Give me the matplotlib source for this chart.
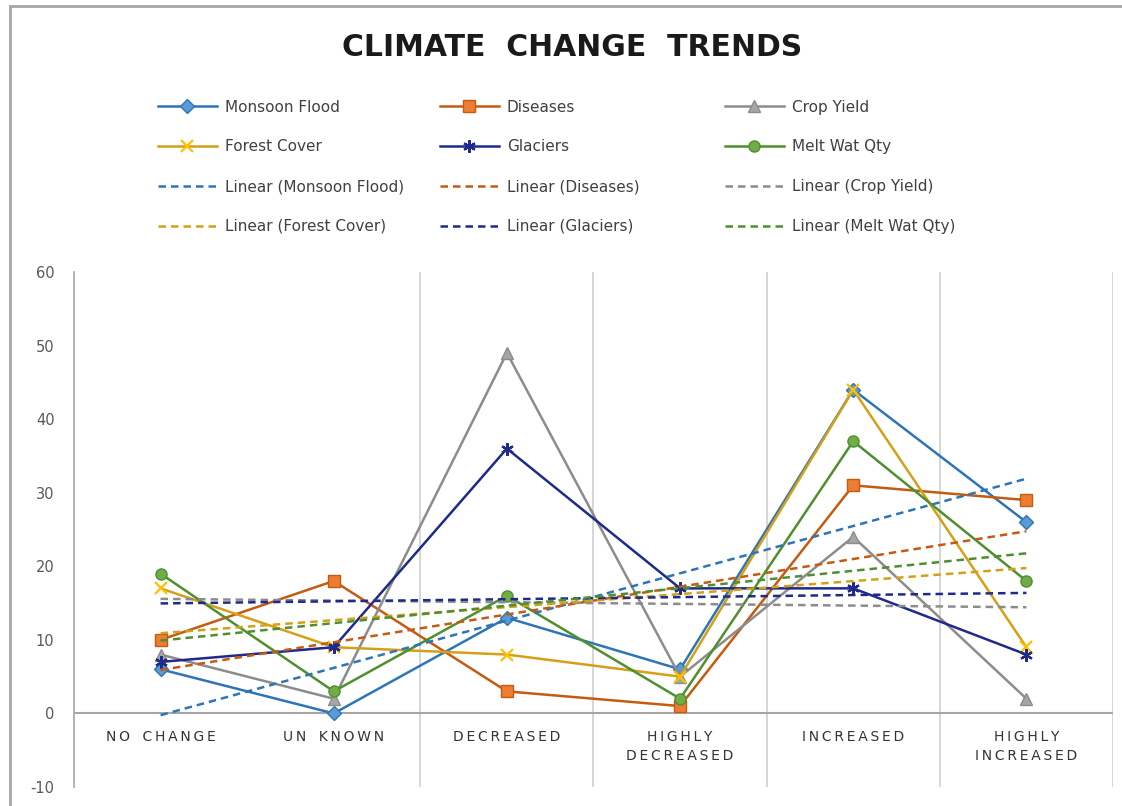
import matplotlib.pyplot as plt
from matplotlib.patches import Rectangle
import numpy as np

plt.rcParams['axes.unicode_minus'] = False

# categories and series values
categories = ['NO CHANGE', 'UN KNOWN', 'DECREASED', 'HIGHLY\nDECREASED', 'INCREASED', 'HIGHLY\nINCREASED']
series_names = ['Monsoon Flood', 'Diseases', 'Crop Yield', 'Forest Cover', 'Glaciers', 'Melt Wat Qty']
monsoon_flood = [6, 0, 13, 6, 44, 26]
diseases = [10, 18, 3, 1, 31, 29]
crop_yield = [8, 2, 49, 5, 24, 2]
forest_cover = [17, 9, 8, 5, 44, 9]
glaciers = [7, 9, 36, 17, 17, 8]
melt_wat_qty = [19, 3, 16, 2, 37, 18]
y_ticks = [-10, 0, 10, 20, 30, 40, 50, 60]

all_series = [monsoon_flood, diseases, crop_yield, forest_cover, glaciers, melt_wat_qty]
line_colors = ['#2E75B6', '#C55A11', '#8C8C8C', '#D4A017', '#1F2A8A', '#4E8F2E']
marker_colors = ['#5B9BD5', '#ED7D31', '#A5A5A5', '#FFC000', '#2E5FB0', '#70AD47']
markers = ['D', 's', '^', 'x', (6, 2, 0), 'o']
msizes = [7, 8, 8, 8, 9, 8]

fig = plt.figure(figsize=(11.22, 8.06), dpi=100)
ax = fig.add_axes([74 / 1122, 1 - 787 / 806, (1113 - 74) / 1122, (787 - 272) / 806])

x = np.arange(1, len(categories) + 1)
line_handles = []
trend_handles = []
for name, vals, lc, mc, mk, ms in zip(series_names, all_series, line_colors, marker_colors, markers, msizes):
    h, = ax.plot(x, vals, color=lc, lw=1.8, marker=mk, markersize=ms,
                 markerfacecolor=mc, markeredgecolor=lc if mk != 'x' else mc,
                 markeredgewidth=1.6 if mk in ('x', (6, 2, 0)) else 1.0, label=name, zorder=3)
    line_handles.append(h)

for name, vals, lc in zip(series_names, all_series, line_colors):
    slope, icpt = np.polyfit(x, vals, 1)
    t, = ax.plot(x, slope * x + icpt, color=lc, lw=1.8, ls=(0, (3, 2)),
                 label='Linear (%s)' % name, zorder=4)
    trend_handles.append(t)

ax.set_xlim(0.5, 6.5)
ax.set_ylim(-10, 60)
ax.set_yticks(y_ticks)
ax.set_xticks([])
ax.tick_params(axis='y', length=0, pad=14, labelsize=10.5, labelcolor='#595959')
for s in ['top', 'right', 'bottom']:
    ax.spines[s].set_visible(False)
ax.spines['left'].set_color('#A6A6A6')
ax.spines['left'].set_linewidth(1.2)
ax.axhline(0, color='#A6A6A6', lw=1.5, zorder=1)
for b in np.arange(2.5, 7, 1):
    ax.axvline(b, color='#D0D0D0', lw=1.2, zorder=0)

# category labels sitting under the zero line
for xi, cat in zip(x, categories):
    spaced = '\n'.join('\u2009'.join(w.replace(' ', '\u2002')) for w in cat.split('\n'))
    ax.text(xi, -2.2, spaced, ha='center', va='top', fontsize=10, color='#333333',
            linespacing=1.5)

fig.text(572 / 1122, 1 - 48 / 806, 'CLIMATE  CHANGE  TRENDS', ha='center', va='center',
         fontsize=21.5, fontweight='bold', color='#1A1A1A')

# legend: three columns, Excel row order
col_x = [150, 432, 717]
for c in range(3):
    hs = [line_handles[c], line_handles[c + 3], trend_handles[c], trend_handles[c + 3]]
    leg = fig.legend(handles=hs, loc='upper left', bbox_to_anchor=(col_x[c] / 1122, 1 - 92 / 806),
                     frameon=False, fontsize=11, handlelength=3.9, handletextpad=0.5,
                     labelspacing=1.62, borderpad=0)
    for tx in leg.get_texts():
        tx.set_color('#404040')

# chart border (cropped at right and bottom)
fig.patches.append(Rectangle((10 / 1122, -0.1), 1.2, 1.1 - 6 / 806, transform=fig.transFigure,
                             fill=False, edgecolor='#A6A6A6', lw=2))

fig.savefig('out.png', dpi=100)
